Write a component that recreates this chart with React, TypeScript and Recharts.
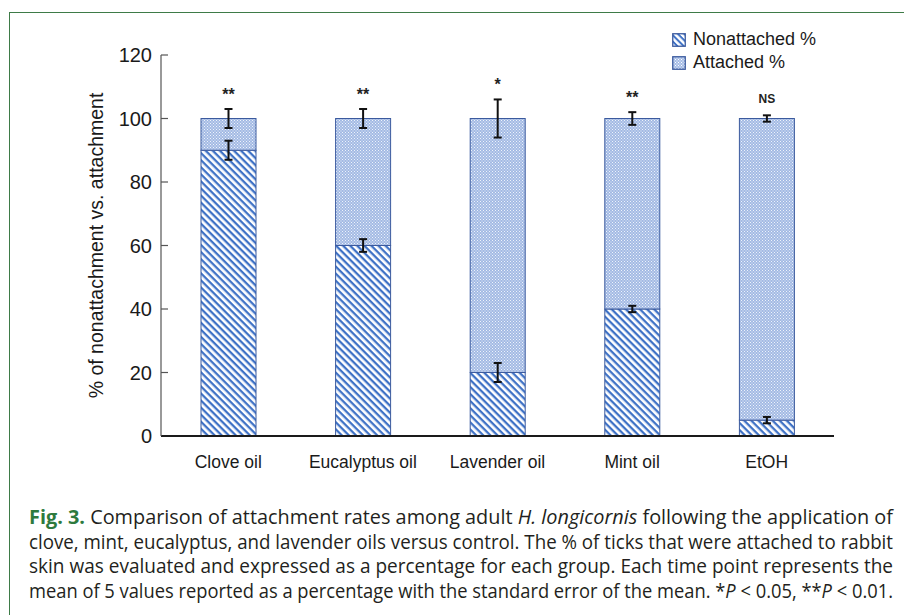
import React from 'react';
import { BarChart, Bar, XAxis, YAxis, Legend } from 'recharts';

const categories = ['Clove oil', 'Eucalyptus oil', 'Lavender oil', 'Mint oil', 'EtOH'];
const nonattachedPct = [90, 60, 20, 40, 5];
const attachedPct = [10, 40, 80, 60, 95];
const nonattachedErr = [3, 2, 3, 1, 1];
const attachedErr = [3, 3, 6, 2, 1];
const significance = ['**', '**', '*', '**', 'NS'];
const yTicks = [0, 20, 40, 60, 80, 100, 120];

const captionLines = [
  [
    { t: 'Fig. 3.', bold: true, green: true },
    { t: ' Comparison of attachment rates among adult ' },
    { t: 'H. longicornis', italic: true },
    { t: ' following the application of' },
  ],
  [{ t: 'clove, mint, eucalyptus, and lavender oils versus control. The % of ticks that were attached to rabbit' }],
  [{ t: 'skin was evaluated and expressed as a percentage for each group. Each time point represents the' }],
  [
    { t: 'mean of 5 values reported as a percentage with the standard error of the mean. *' },
    { t: 'P', italic: true },
    { t: ' < 0.05, **' },
    { t: 'P', italic: true },
    { t: ' < 0.01.' },
  ],
];

const data = categories.map((name, i) => ({
  name,
  nonattached: nonattachedPct[i],
  attached: attachedPct[i],
  nErr: nonattachedErr[i],
  aErr: attachedErr[i],
  sig: significance[i],
}));

const FONT = '"Liberation Sans", Arial, Helvetica, sans-serif';
const BAR_STROKE = '#3b5a9e';

function ErrBar({ cx, cy, e }: { cx: number; cy: number; e: number }) {
  return (
    <g stroke="#111" strokeWidth={2}>
      <line x1={cx} x2={cx} y1={cy - e} y2={cy + e} />
      <line x1={cx - 4} x2={cx + 4} y1={cy - e} y2={cy - e} />
      <line x1={cx - 4} x2={cx + 4} y1={cy + e} y2={cy + e} />
    </g>
  );
}

function NonShape(props: any) {
  const { x, y, width, height } = props;
  return <rect x={x} y={y} width={width} height={height} fill="url(#stripes)" stroke={BAR_STROKE} strokeWidth={1} />;
}

function AttShape(props: any) {
  const { x, y, width, height, payload } = props;
  const ppu = height / payload.attached;
  const cx = x + width / 2;
  const isNS = payload.sig === 'NS';
  const topErr = payload.aErr * ppu;
  const sigY = Math.min(y - 16, y - topErr - 9);
  return (
    <g>
      <rect x={x} y={y} width={width} height={height} fill="url(#dots)" stroke={BAR_STROKE} strokeWidth={1} />
      <ErrBar cx={cx} cy={y + height} e={payload.nErr * ppu} />
      <ErrBar cx={cx} cy={y} e={topErr} />
      <text
        x={cx}
        y={sigY}
        textAnchor="middle"
        fontFamily={FONT}
        fontWeight="bold"
        fontSize={isNS ? 12 : 16}
        fill="#222"
      >
        {payload.sig}
      </text>
    </g>
  );
}

function YTick(props: any) {
  const { x, y, payload } = props;
  return (
    <g>
      {payload.value !== 0 && <line x1={x} x2={x + 7} y1={y} y2={y} stroke="#555" strokeWidth={1.2} />}
      <text x={x - 9} y={y} dy="0.36em" textAnchor="end" fontFamily={FONT} fontSize={20} fill="#1a1a1a">
        {payload.value}
      </text>
    </g>
  );
}

function XTick(props: any) {
  const { x, y, payload } = props;
  return (
    <text x={x} y={y + 32} textAnchor="middle" fontFamily={FONT} fontSize={17.5} fill="#1a1a1a">
      {payload.value}
    </text>
  );
}

function YLabel(props: any) {
  const vb = props.viewBox || { x: 0, y: 0, width: 0, height: 0 };
  const cx = vb.x + 96;
  const cy = vb.y + vb.height / 2;
  return (
    <text
      x={cx}
      y={cy}
      transform={`rotate(-90, ${cx}, ${cy})`}
      textAnchor="middle"
      dy="0.36em"
      fontFamily={FONT}
      fontSize={19.5}
      fill="#1a1a1a"
    >
      % of nonattachment vs. attachment
    </text>
  );
}

function LegendContent() {
  const items = [
    { label: 'Nonattached %', fill: 'url(#stripesL)' },
    { label: 'Attached %', fill: 'url(#dotsL)' },
  ];
  return (
    <div style={{ fontFamily: FONT, fontSize: 18, color: '#1a1a1a' }}>
      {items.map((it) => (
        <div key={it.label} style={{ display: 'flex', alignItems: 'center', height: 23 }}>
          <svg width={14} height={14} style={{ marginRight: 7 }}>
            <defs>
              <pattern id="stripesL" patternUnits="userSpaceOnUse" width={4.5} height={4.5} patternTransform="rotate(45)">
                <rect width={4.5} height={4.5} fill="#fff" />
                <rect width={4.5} height={2} fill="#3f72c6" />
              </pattern>
              <pattern id="dotsL" patternUnits="userSpaceOnUse" width={3} height={3}>
                <rect width={3} height={3} fill="#a6bde6" />
                <rect x={0} y={0} width={1} height={1} fill="#fff" />
                <rect x={1.5} y={1.5} width={1} height={1} fill="#fff" />
              </pattern>
            </defs>
            <rect x={0.75} y={0.75} width={12.5} height={12.5} fill={it.fill} stroke={BAR_STROKE} strokeWidth={1.3} />
          </svg>
          <span>{it.label}</span>
        </div>
      ))}
    </div>
  );
}

export default function App() {
  return (
    <div style={{ position: 'absolute', left: 0, top: 0, width: 904, height: 615, background: '#fff', overflow: 'hidden' }}>
      <div
        style={{
          position: 'absolute',
          left: 9,
          top: 12,
          width: 1000,
          height: 700,
          borderLeft: '1.5px solid #3e7b47',
          borderTop: '1.5px solid #3e7b47',
        }}
      />
      <div style={{ position: 'absolute', left: 0, top: 0 }}>
        <BarChart width={904} height={480} data={data} margin={{ top: 55, right: 70, bottom: 10, left: 0 }} barSize={55}>
          <defs>
            <pattern id="stripes" patternUnits="userSpaceOnUse" width={5} height={5} patternTransform="rotate(45)">
              <rect width={5} height={5} fill="#fff" />
              <rect width={5} height={2.3} fill="#3f72c6" />
            </pattern>
            <pattern id="dots" patternUnits="userSpaceOnUse" width={3} height={3}>
              <rect width={3} height={3} fill="#a3bae4" />
              <rect x={0} y={0} width={1} height={1} fill="#eef3fb" />
              <rect x={1.5} y={1.5} width={1} height={1} fill="#eef3fb" />
            </pattern>
          </defs>
          <XAxis
            dataKey="name"
            height={34}
            interval={0}
            tickLine={false}
            tickSize={0}
            tickMargin={0}
            axisLine={{ stroke: '#1a1a1a', strokeWidth: 2 }}
            tick={<XTick />}
          />
          <YAxis
            type="number"
            domain={[0, 120]}
            ticks={yTicks}
            interval={0}
            width={161}
            tickLine={false}
            tickSize={0}
            tickMargin={0}
            axisLine={{ stroke: '#555', strokeWidth: 1.2 }}
            tick={<YTick />}
            label={(p: any) => <YLabel {...p} />}
          />
          <Legend
            layout="horizontal"
            verticalAlign="middle"
            align="center"
            wrapperStyle={{ position: 'absolute', left: 672, top: 28, width: 200, height: 50 }}
            content={() => <LegendContent />}
          />
          <Bar dataKey="nonattached" stackId="a" shape={<NonShape />} isAnimationActive={false} />
          <Bar dataKey="attached" stackId="a" shape={<AttShape />} isAnimationActive={false} />
        </BarChart>
      </div>
      <svg style={{ position: 'absolute', left: 0, top: 0 }} width={904} height={615}>
        {captionLines.map((line, li) => (
          <text
            key={li}
            x={29}
            y={524 + li * 24.7}
            textLength={864}
            lengthAdjust="spacingAndGlyphs"
            fontFamily='"Open Sans", "Noto Sans", sans-serif'
            fontSize={19.5}
            fill="#231f20"
          >
            {line.map((seg: any, si) => (
              <tspan
                key={si}
                fontWeight={seg.bold ? 'bold' : 'normal'}
                fontStyle={seg.italic ? 'italic' : 'normal'}
                fill={seg.green ? '#2e7a3e' : '#231f20'}
              >
                {seg.t}
              </tspan>
            ))}
          </text>
        ))}
      </svg>
    </div>
  );
}
